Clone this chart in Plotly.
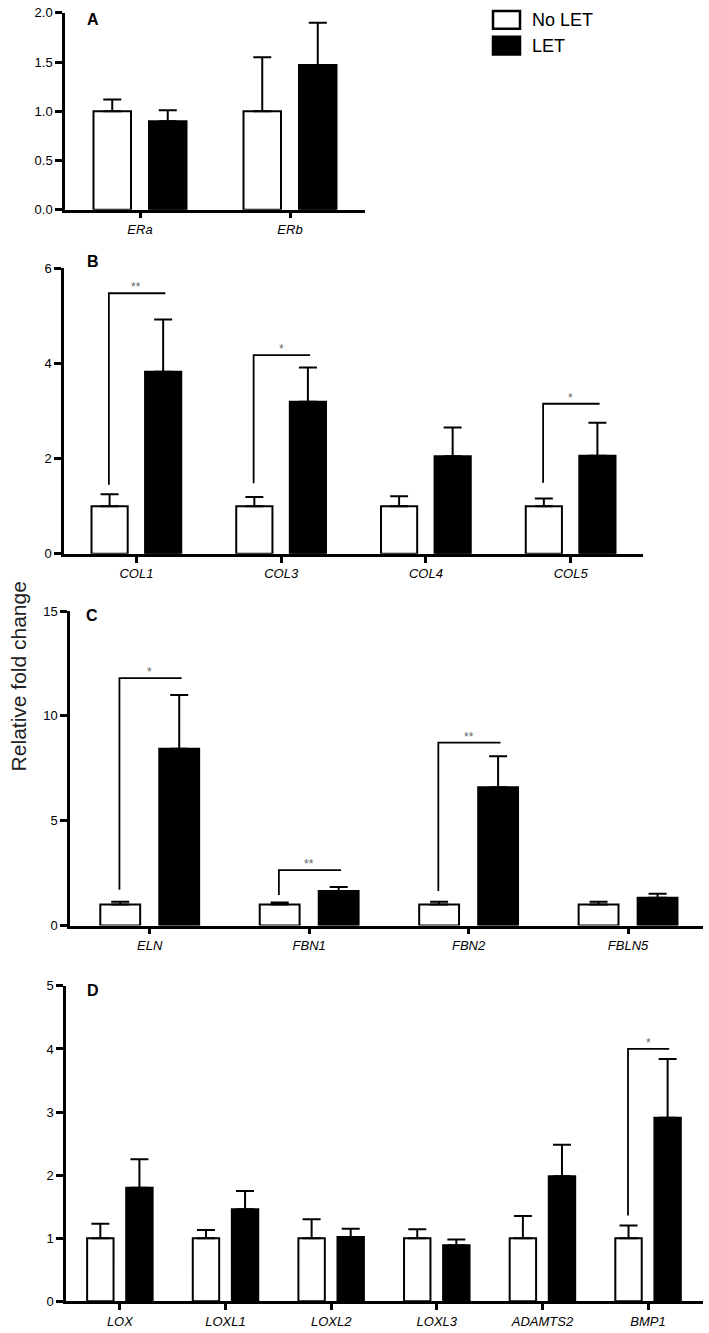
import plotly.graph_objects as go

# ---------------- data ----------------
A_cats = ["ERa", "ERb"]
A_nolet = [1.0, 1.0]
A_nolet_err = [0.12, 0.55]
A_let = [0.90, 1.47]
A_let_err = [0.11, 0.43]

B_cats = ["COL1", "COL3", "COL4", "COL5"]
B_nolet = [1.0, 1.0, 1.0, 1.0]
B_nolet_err = [0.25, 0.19, 0.21, 0.16]
B_let = [3.82, 3.19, 2.05, 2.06]
B_let_err = [1.10, 0.72, 0.60, 0.69]
B_sig_idx = [0, 1, 3]
B_sig_low = [1.45, 1.48, 1.49]
B_sig_high = [5.47, 4.17, 3.15]
B_sig_txt = ["**", "*", "*"]

C_cats = ["ELN", "FBN1", "FBN2", "FBLN5"]
C_nolet = [1.0, 1.0, 1.0, 1.0]
C_nolet_err = [0.13, 0.10, 0.13, 0.13]
C_let = [8.44, 1.65, 6.60, 1.32]
C_let_err = [2.56, 0.19, 1.48, 0.20]
C_sig_idx = [0, 1, 2]
C_sig_low = [1.71, 1.46, 1.65]
C_sig_high = [11.8, 2.64, 8.73]
C_sig_txt = ["*", "**", "**"]

D_cats = ["LOX", "LOXL1", "LOXL2", "LOXL3", "ADAMTS2", "BMP1"]
D_nolet = [1.0, 1.0, 1.0, 1.0, 1.0, 1.0]
D_nolet_err = [0.23, 0.13, 0.30, 0.14, 0.35, 0.20]
D_let = [1.80, 1.46, 1.02, 0.89, 1.98, 2.91]
D_let_err = [0.45, 0.29, 0.13, 0.09, 0.50, 0.93]
D_sig_idx = [5]
D_sig_low = [1.36]
D_sig_high = [4.00]
D_sig_txt = ["*"]

series_names = ["No LET", "LET"]
y_title = "Relative fold change"

panels = [
    dict(letter="A", cats=A_cats, nolet=A_nolet, nolet_err=A_nolet_err, let=A_let, let_err=A_let_err,
         sig_idx=[], sig_low=[], sig_high=[], sig_txt=[],
         xdom=[65 / 709, 365 / 709], ydom=[(1333 - 205) / 1333, (1333 - 6) / 1333],
         xrange=[-0.5, 1.5], yrange=[0, 2], dtick=0.5, tickformat=".1f", letter_px=(85, 2)),
    dict(letter="B", cats=B_cats, nolet=B_nolet, nolet_err=B_nolet_err, let=B_let, let_err=B_let_err,
         sig_idx=B_sig_idx, sig_low=B_sig_low, sig_high=B_sig_high, sig_txt=B_sig_txt,
         xdom=[64 / 709, 643 / 709], ydom=[(1333 - 553) / 1333, (1333 - 264) / 1333],
         xrange=[-0.5, 3.5], yrange=[0, 6], dtick=2, tickformat="d", letter_px=(85, 247)),
    dict(letter="C", cats=C_cats, nolet=C_nolet, nolet_err=C_nolet_err, let=C_let, let_err=C_let_err,
         sig_idx=C_sig_idx, sig_low=C_sig_low, sig_high=C_sig_high, sig_txt=C_sig_txt,
         xdom=[70 / 709, 703 / 709], ydom=[(1333 - 929) / 1333, (1333 - 611) / 1333],
         xrange=[-0.5, 3.47], yrange=[0, 15], dtick=5, tickformat="d", letter_px=(84, 605)),
    dict(letter="D", cats=D_cats, nolet=D_nolet, nolet_err=D_nolet_err, let=D_let, let_err=D_let_err,
         sig_idx=D_sig_idx, sig_low=D_sig_low, sig_high=D_sig_high, sig_txt=D_sig_txt,
         xdom=[66 / 709, 703 / 709], ydom=[(1333 - 1309) / 1333, (1333 - 990) / 1333],
         xrange=[-0.51, 5.52], yrange=[0, 5], dtick=1, tickformat="d", letter_px=(85, 984)),
]

FONT = "Liberation Sans, Arial, Helvetica, sans-serif"
fig = go.Figure()
annotations = []
shapes = []
layout_axes = {}

for k, p in enumerate(panels):
    sfx = "" if k == 0 else str(k + 1)
    xa, ya = "x" + sfx, "y" + sfx
    idx = list(range(len(p["cats"])))
    n = len(idx)
    fig.add_trace(go.Bar(
        x=idx, y=p["nolet"], width=0.25, offset=-0.31, name=series_names[0],
        marker=dict(color="white", line=dict(color="black", width=2)),
        error_y=dict(type="data", array=p["nolet_err"], arrayminus=[0] * n, symmetric=False,
                     color="black", thickness=2, width=9),
        xaxis=xa, yaxis=ya, showlegend=False))
    fig.add_trace(go.Bar(
        x=idx, y=p["let"], width=0.25, offset=0.06, name=series_names[1],
        marker=dict(color="black", line=dict(color="black", width=2)),
        error_y=dict(type="data", array=p["let_err"], arrayminus=[0] * n, symmetric=False,
                     color="black", thickness=2, width=9),
        xaxis=xa, yaxis=ya, showlegend=False))
    # significance brackets
    for i, lo, hi, t in zip(p["sig_idx"], p["sig_low"], p["sig_high"], p["sig_txt"]):
        fig.add_trace(go.Scatter(
            x=[i - 0.19, i - 0.19, i + 0.2], y=[lo, hi, hi], mode="lines",
            line=dict(color="black", width=1.8), xaxis=xa, yaxis=ya,
            showlegend=False, hoverinfo="skip"))
        annotations.append(dict(
            x=i, y=hi, xref=xa, yref=ya, text=t, showarrow=False,
            yanchor="bottom", yshift=-3, font=dict(family=FONT, size=12, color="#666666")))
    axis_common = dict(showline=True, linewidth=2.5, linecolor="black", ticks="outside",
                       tickwidth=2.5, tickcolor="black", showgrid=False, zeroline=False)
    layout_axes["xaxis" + sfx] = dict(
        domain=p["xdom"], range=p["xrange"], anchor=ya, tickmode="array",
        tickvals=idx, ticktext=p["cats"], ticklen=6,
        tickfont=dict(family=FONT, size=13, color="black", style="italic"), **axis_common)
    layout_axes["yaxis" + sfx] = dict(
        domain=p["ydom"], range=p["yrange"], anchor=xa, dtick=p["dtick"], tick0=0,
        tickformat=p["tickformat"], ticklen=7,
        tickfont=dict(family=FONT, size=13, color="black"), **axis_common)
    lx, ly = p["letter_px"]
    annotations.append(dict(
        x=lx / 709, y=1 - ly / 1333, xref="paper", yref="paper", text="<b>%s</b>" % p["letter"],
        showarrow=False, xanchor="left", yanchor="top",
        font=dict(family=FONT, size=16, color="black")))

# legend (drawn as boxes + text)
leg_rows = [(series_names[0], "white", 4, 22), (series_names[1], "black", 30, 48)]
for name, col, top, bot in leg_rows:
    shapes.append(dict(type="rect", xref="paper", yref="paper",
                       x0=493 / 709, x1=520 / 709, y0=1 - bot / 1333, y1=1 - top / 1333,
                       fillcolor=col, line=dict(color="black", width=2.5)))
    annotations.append(dict(x=530 / 709, y=1 - (top + bot) / 2 / 1333, xref="paper", yref="paper",
                            text=name, showarrow=False, xanchor="left", yanchor="middle",
                            font=dict(family=FONT, size=18, color="black")))

# shared y-axis title
annotations.append(dict(x=18 / 709, y=1 - 677 / 1333, xref="paper", yref="paper", text=y_title,
                        textangle=-90, showarrow=False, xanchor="center", yanchor="middle",
                        font=dict(family=FONT, size=21, color="#222222")))

fig.update_layout(
    width=709, height=1333, margin=dict(l=0, r=0, t=0, b=0),
    paper_bgcolor="white", plot_bgcolor="white", barmode="overlay",
    font=dict(family=FONT, color="black"),
    annotations=annotations, shapes=shapes, **layout_axes)

fig.write_html("out.html", config={"displayModeBar": False},
               post_script="document.body.style.margin='0';document.body.style.padding='0';")
